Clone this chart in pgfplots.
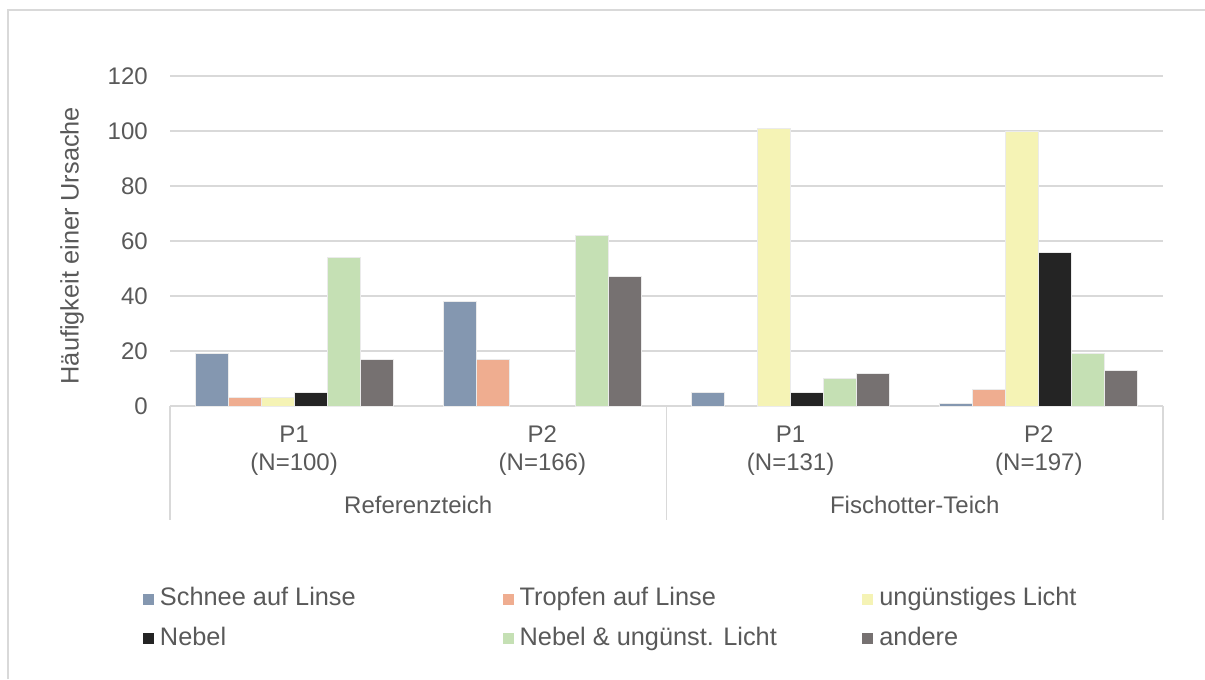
\documentclass[border=0pt]{standalone}
\usepackage{fontspec}
\setmainfont{Liberation Sans}
\usepackage{pgfplots}
\pgfplotsset{compat=1.18}
\definecolor{cSchnee}{HTML}{8497B0}
\definecolor{cTropfen}{HTML}{EFAD90}
\definecolor{cLicht}{HTML}{F5F3B5}
\definecolor{cNebel}{HTML}{242424}
\definecolor{cNL}{HTML}{C5E0B4}
\definecolor{cAndere}{HTML}{767171}
\definecolor{txt}{HTML}{595959}
\definecolor{grd}{HTML}{D9D9D9}
\pgfplotsset{
  mybar/.style={fill=#1, draw=black!8, line width=0.75pt,
    legend image code/.code={\fill[##1, draw=none] (0pt,-4.125pt) rectangle (8.25pt,4.125pt);}},
}
\begin{document}
\begin{tikzpicture}
\path[use as bounding box] (0pt,0pt) rectangle (903.75pt,509.25pt);
\draw[grd, line width=1pt] (6pt,0pt) -- (6pt,501.75pt) -- (903.75pt,501.75pt);
\begin{axis}[
  at={(127.5pt,204.75pt)}, anchor=south west, scale only axis,
  width=744.75pt, height=247.5pt,
  xmin=-0.5, xmax=3.5, ymin=0, ymax=120,
  ytick={0,20,...,120}, xtick={0,1,2,3},
  xticklabels={{P1\\(N=100)},{P2\\(N=166)},{P1\\(N=131)},{P2\\(N=197)}},
  ybar=0pt, bar width=24.75pt,
  axis line style={draw=none},
  major tick length=0pt,
  ymajorgrids, grid style={grd, line width=1.1pt},
  font=\fontsize{18}{21}\selectfont,
  tick label style={text=txt},
  /pgf/number format/assume math mode=true,
  yticklabel style={anchor=east, inner sep=0pt, xshift=-16.5pt},
  xticklabel style={anchor=center, align=center, inner sep=0pt, yshift=-33.5pt},
  ylabel={Häufigkeit einer Ursache},
  ylabel style={at={(axis description cs:-0.0987,0.486)}, anchor=center, text=txt, font=\fontsize{19}{22}\selectfont},
  clip=false,
  legend columns=3,
  legend cell align=left,
  legend style={at={(axis description cs:0,0)}, anchor=north west, xshift=-20.25pt, yshift=-136.25pt,
    draw=none, fill=none, inner sep=0pt, outer sep=0pt, row sep=12pt,
    font=\fontsize{19}{22}\selectfont, text=txt,
    nodes={inner sep=0pt, text height=13.5pt, text depth=4pt},
    /tikz/every odd column/.append style={column sep=4.5pt}},
]
\addplot[mybar=cSchnee] coordinates {(0,19) (1,38) (2,5) (3,1)};
\addplot[mybar=cTropfen] coordinates {(0,3) (1,17) (3,6)};
\addplot[mybar=cLicht] coordinates {(0,3) (2,101) (3,100)};
\addplot[mybar=cNebel] coordinates {(0,5) (2,5) (3,56)};
\addplot[mybar=cNL] coordinates {(0,54) (1,62) (2,10) (3,19)};
\addplot[mybar=cAndere] coordinates {(0,17) (1,47) (2,12) (3,13)};
\addlegendentry{\makebox[257pt][l]{Schnee auf Linse}}
\addlegendentry{\makebox[257pt][l]{Tropfen auf Linse}}
\addlegendentry{\makebox[257pt][l]{ungünstiges Licht}}
\addlegendentry{\makebox[257pt][l]{Nebel}}
\addlegendentry{\makebox[257pt][l]{Nebel \& ungünst. Licht}}
\addlegendentry{\makebox[257pt][l]{andere}}
\draw[grd, line width=1pt] (axis cs:-0.5,0) -- ++(0pt,-85.5pt);
\draw[grd, line width=1pt] (axis cs:1.5,0) -- ++(0pt,-85.5pt);
\draw[grd, line width=1pt] (axis cs:3.5,0) -- ++(0pt,-85.5pt);
\node[text=txt, yshift=-74.25pt] at (axis cs:0.5,0) {Referenzteich};
\node[text=txt, yshift=-74.25pt] at (axis cs:2.5,0) {Fischotter-Teich};
\end{axis}
\end{tikzpicture}
\end{document}
